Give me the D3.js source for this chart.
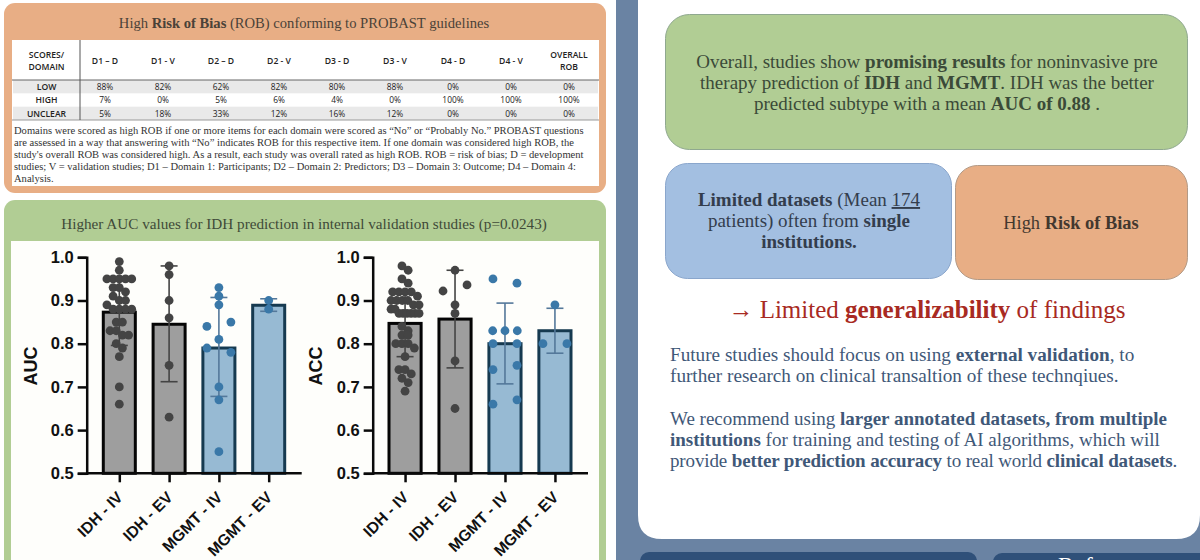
<!DOCTYPE html>
<html lang="en">
<head>
  <meta charset="UTF-8">
  <title>AI prediction of IDH and MGMT - poster section</title>
  <script src="https://d3js.org/d3.v7.min.js"></script>
  <style>
    html, body { margin: 0; padding: 0; background: #fff; overflow: hidden; }
    svg { display: block; }
    .serif { font-family: "Liberation Serif", serif; }
    .tbl { font-family: "Open Sans", sans-serif; fill: #222; }
    .axis text { font-family: "Liberation Sans", Arial, sans-serif; font-weight: bold; fill: #111; }
  </style>
</head>
<body>
<div id="viz"></div>

<script>
// Table data
var domains = ["D1 \u2013 D", "D1 - V", "D2 \u2013 D", "D2 - V", "D3 - D", "D3 - V", "D4 - D", "D4 - V", "OVERALL|ROB"];
var scoreNames = ["LOW", "HIGH", "UNCLEAR"];
var lowScores = ["88%", "82%", "62%", "82%", "80%", "88%", "0%", "0%", "0%"];
var highScores = ["7%", "0%", "5%", "6%", "4%", "0%", "100%", "100%", "100%"];
var unclearScores = ["5%", "18%", "33%", "12%", "16%", "12%", "0%", "0%", "0%"];

var tableNote = [
  "Domains were scored as high ROB if one or more items for each domain were scored as \u201cNo\u201d or \u201cProbably No.\u201d PROBAST questions",
  "are assessed in a way that answering with \u201cNo\u201d indicates ROB for this respective item. If one domain was considered high ROB, the",
  "study's overall ROB was considered high. As a result, each study was overall rated as high ROB. ROB = risk of bias; D = development",
  "studies; V = validation studies; D1 \u2013 Domain 1: Participants; D2 \u2013 Domain 2: Predictors; D3 \u2013 Domain 3: Outcome; D4 \u2013 Domain 4:",
  "Analysis."
];

// Chart data
var groups = ["IDH - IV", "IDH - EV", "MGMT - IV", "MGMT - EV"];
var yTicks = [0.5, 0.6, 0.7, 0.8, 0.9, 1.0];

var aucMean = [0.873, 0.845, 0.79, 0.889];
var aucLow = [0.796, 0.712, 0.678, 0.875];
var aucHigh = [0.95, 0.98, 0.907, 0.904];
var aucIdhIv = [0.99, 0.97, 0.95, 0.95, 0.95, 0.95, 0.95, 0.93, 0.93, 0.92, 0.91, 0.90, 0.90, 0.89, 0.88, 0.88, 0.88, 0.88, 0.85, 0.85, 0.83, 0.83, 0.82, 0.82, 0.80, 0.79, 0.77, 0.70, 0.66];
var aucIdhEv = [0.98, 0.96, 0.90, 0.86, 0.75, 0.63];
var aucMgmtIv = [0.93, 0.91, 0.89, 0.84, 0.85, 0.81, 0.79, 0.78, 0.70, 0.67, 0.55];
var aucMgmtEv = [0.90, 0.88];

var accMean = [0.847, 0.857, 0.80, 0.83];
var accLow = [0.77, 0.744, 0.707, 0.778];
var accHigh = [0.924, 0.97, 0.894, 0.882];
var accIdhIv = [0.98, 0.97, 0.95, 0.94, 0.92, 0.92, 0.92, 0.92, 0.91, 0.90, 0.90, 0.90, 0.90, 0.89, 0.89, 0.88, 0.88, 0.87, 0.87, 0.87, 0.87, 0.87, 0.87, 0.84, 0.83, 0.82, 0.82, 0.80, 0.80, 0.80, 0.79, 0.77, 0.74, 0.74, 0.73, 0.72, 0.71, 0.69];
var accIdhEv = [0.97, 0.922, 0.936, 0.89, 0.87, 0.76, 0.65];
var accMgmtIv = [0.95, 0.94, 0.83, 0.83, 0.83, 0.80, 0.80, 0.74, 0.75, 0.66, 0.67];
var accMgmtEv = [0.89, 0.80, 0.80];

var svg = d3.select("#viz").append("svg").attr("width", 1200).attr("height", 560);

// writes a line of text, **x** is bold and __x__ underlined
function richText(parent, str, x, y, size, color, anchor) {
  var t = parent.append("text").attr("class", "serif")
    .attr("x", x).attr("y", y)
    .attr("font-size", size).attr("fill", color)
    .attr("text-anchor", anchor || "middle");
  str.split(/(\*\*.*?\*\*|__.*?__)/).forEach(function(part) {
    if (!part) return;
    var s = t.append("tspan");
    if (part.slice(0, 2) == "**") {
      s.attr("font-weight", "bold").text(part.slice(2, -2));
    } else if (part.slice(0, 2) == "__") {
      s.style("text-decoration", "underline").text(part.slice(2, -2));
    } else {
      s.text(part);
    }
  });
  return t;
}

function box(x, y, w, h, r, fill, stroke) {
  return svg.append("rect").attr("x", x).attr("y", y).attr("width", w).attr("height", h)
    .attr("rx", r).attr("fill", fill).attr("stroke", stroke || "none");
}

// Left panels
box(4, 3, 602, 190, 11, "#e8ae85");
box(12, 40, 587, 146, 0, "#fff");
richText(svg, "High **Risk of Bias** (ROB) conforming to PROBAST guidelines", 304, 28, 14.6, "#4a4238");

box(4, 200, 602, 380, 11, "#b1cd94");
box(11, 241, 588, 330, 0, "#fefefb");
richText(svg, "Higher AUC values for IDH prediction in internal validation studies (p=0.0243)", 304, 229, 15.2, "#3f4a38");

// Table
var colX = d3.scalePoint().domain(domains).range([105, 569]);
var rowY = d3.scaleBand().domain(scoreNames).range([80, 120]);

svg.selectAll(".shade").data(["LOW", "UNCLEAR"]).enter().append("rect")
  .attr("x", 13).attr("width", 585)
  .attr("y", function(d) { return rowY(d); })
  .attr("height", rowY.bandwidth())
  .attr("fill", "#e9e9e9");

svg.append("line").attr("x1", 12).attr("x2", 599).attr("y1", 80).attr("y2", 80).attr("stroke", "#666");
svg.append("line").attr("x1", 12).attr("x2", 599).attr("y1", 120).attr("y2", 120).attr("stroke", "#999");
svg.append("line").attr("x1", 80).attr("x2", 80).attr("y1", 40).attr("y2", 120).attr("stroke", "#555");

["SCORES/", "DOMAIN"].forEach(function(s, i) {
  svg.append("text").attr("class", "tbl").attr("x", 46.5).attr("y", 58 + i * 12)
    .attr("text-anchor", "middle").attr("font-size", 8.6).attr("font-weight", 600).text(s);
});

domains.forEach(function(d) {
  var parts = d.split("|");
  parts.forEach(function(s, i) {
    svg.append("text").attr("class", "tbl").attr("x", colX(d))
      .attr("y", (parts.length > 1 ? 58 : 64) + i * 12)
      .attr("text-anchor", "middle").attr("font-size", 8.6).attr("font-weight", 600).text(s);
  });
});

[lowScores, highScores, unclearScores].forEach(function(row, r) {
  var name = scoreNames[r];
  svg.append("text").attr("class", "tbl").attr("x", 46.5).attr("y", rowY(name) + 10)
    .attr("text-anchor", "middle").attr("font-size", 8.6).attr("font-weight", 600).text(name);
  row.forEach(function(v, c) {
    svg.append("text").attr("class", "tbl").attr("x", colX(domains[c])).attr("y", rowY(name) + 10)
      .attr("text-anchor", "middle").attr("font-size", 8.4).attr("fill", "#444").text(v);
  });
});

tableNote.forEach(function(line, i) {
  richText(svg, line, 14, 134 + i * 12.1, 10.55, "#333", "start");
});

// spreads dots that sit at nearly the same value side by side, left to right in list order
function swarm(values) {
  var dense = values.length > 20, out = [], i = 0;
  while (i < values.length) {
    var j = i;
    while (j < values.length && Math.abs(values[i] - values[j]) < 0.015) j++;
    var n = j - i, step;
    if (dense) step = Math.min(6.2, 28 / Math.max(n - 1, 1));
    else step = n == 2 ? 24 : 12.3;
    for (var k = 0; k < n; k++) {
      out.push({ value: values[i + k], dx: (k - (n - 1) / 2) * step });
    }
    i = j;
  }
  return out;
}

function barChart(cfg) {
  var g = svg.append("g");
  var x = d3.scaleBand().domain(groups).range(cfg.xRange).paddingInner(0.357);
  var y = d3.scaleLinear().domain([0.5, 1.0]).range([473.3, 257.3]);
  var isIdh = function(i) { return i < 2; };

  g.selectAll(".bar").data(groups).enter().append("rect")
    .attr("x", function(d) { return x(d); })
    .attr("width", x.bandwidth())
    .attr("y", function(d, i) { return y(cfg.mean[i]); })
    .attr("height", function(d, i) { return y(0.5) - y(cfg.mean[i]); })
    .attr("fill", function(d, i) { return isIdh(i) ? "#9e9e9e" : "#97bad3"; })
    .attr("stroke", function(d, i) { return isIdh(i) ? "#050505" : "#163a50"; })
    .attr("stroke-width", 3);

  groups.forEach(function(d, i) {
    var cx = x(d) + x.bandwidth() / 2;
    var col = isIdh(i) ? "#444" : "#54789a";
    g.append("line").attr("x1", cx).attr("x2", cx)
      .attr("y1", y(cfg.low[i])).attr("y2", y(cfg.high[i]))
      .attr("stroke", col).attr("stroke-width", 1.6);
    [cfg.low[i], cfg.high[i]].forEach(function(v) {
      g.append("line").attr("x1", cx - 8.5).attr("x2", cx + 8.5)
        .attr("y1", y(v)).attr("y2", y(v))
        .attr("stroke", col).attr("stroke-width", 1.6);
    });
    g.selectAll(null).data(swarm(cfg.dots[i])).enter().append("circle")
      .attr("cx", function(p) { return cx + p.dx; })
      .attr("cy", function(p) { return y(p.value); })
      .attr("r", 4.4)
      .attr("fill", isIdh(i) ? "#444444" : "#3a78a8");
  });

  var yAxis = g.append("g").attr("class", "axis")
    .attr("transform", "translate(" + cfg.axisX + ",0)")
    .call(d3.axisLeft(y).tickValues(yTicks).tickFormat(d3.format(".1f")).tickSize(9).tickPadding(4));
  var xAxisScale = d3.scalePoint().domain(groups)
    .range([x(groups[0]) + x.bandwidth() / 2, x(groups[3]) + x.bandwidth() / 2]);
  var xAxis = g.append("g").attr("class", "axis")
    .attr("transform", "translate(0,473.3)")
    .call(d3.axisBottom(xAxisScale).tickSize(9).tickSizeOuter(0));

  xAxis.select(".domain").attr("d", "M" + cfg.axisX + ",0H" + cfg.xEnd);
  g.selectAll(".axis .domain, .axis .tick line").attr("stroke", "#0a0a0a").attr("stroke-width", 2.5);
  yAxis.selectAll("text").attr("font-size", 16.5);
  xAxis.selectAll("text")
    .attr("font-size", 15.8)
    .attr("text-anchor", "end")
    .attr("x", 0).attr("y", 0).attr("dy", 0)
    .attr("transform", "translate(4,25) rotate(-45)");

  g.append("text")
    .attr("transform", "translate(" + cfg.titleX + ",366) rotate(-90)")
    .attr("text-anchor", "middle")
    .attr("font-family", "Liberation Sans, Arial, sans-serif")
    .attr("font-weight", "bold").attr("font-size", 18).attr("fill", "#111")
    .text(cfg.title);
}

barChart({
  title: "AUC", titleX: 37, axisX: 86.7, xEnd: 301.7, xRange: [103.3, 284.7],
  mean: aucMean, low: aucLow, high: aucHigh,
  dots: [aucIdhIv, aucIdhEv, aucMgmtIv, aucMgmtEv]
});
barChart({
  title: "ACC", titleX: 322, axisX: 372.7, xEnd: 588, xRange: [389, 571],
  mean: accMean, low: accLow, high: accHigh,
  dots: [accIdhIv, accIdhEv, accMgmtIv, accMgmtEv]
});

// Right column
svg.append("rect").attr("x", 616).attr("y", 0).attr("width", 584).attr("height", 560).attr("fill", "#6a83a3");
svg.append("path").attr("fill", "#fff")
  .attr("d", "M638,0H1200V515Q1200,539 1176,539H662Q638,539 638,515Z");
box(640, 552, 337, 20, 9, "#2f5079");
box(993, 553, 220, 20, 9, "#2f5079");
svg.append("text").attr("class", "serif").attr("x", 1058).attr("y", 573)
  .attr("font-size", 24).attr("fill", "#fff").text("References");

box(665.5, 14.5, 522, 135, 24, "#b1cd94", "#8fa88f");
box(665.5, 163.5, 286, 115, 22, "#a3bfe1", "#8aa6cc");
box(955.5, 165.5, 232, 114, 22, "#e8ae85", "#b39a86");

richText(svg, "Overall, studies show **promising results** for noninvasive pre", 927, 68, 19, "#3b4a38");
richText(svg, "therapy prediction of **IDH** and **MGMT**. IDH was the better", 927, 89, 19, "#3b4a38");
richText(svg, "predicted subtype with a mean **AUC of 0.88** .", 927, 110, 19, "#3b4a38");

richText(svg, "**Limited datasets** (Mean __174__", 809, 206, 19, "#333d4d");
richText(svg, "patients) often from **single**", 809, 227, 19, "#333d4d");
richText(svg, "**institutions.**", 809, 248, 19, "#333d4d");

richText(svg, "High **Risk of Bias**", 1071, 229, 18.4, "#43382f");

richText(svg, "\u2192 Limited **generalizability** of findings", 927, 318, 25, "#a82a22");

richText(svg, "Future studies should focus on using **external validation**, to", 670, 361, 19.2, "#3f5878", "start");
richText(svg, "further research on clinical transaltion of these technqiues.", 670, 382, 19.2, "#3f5878", "start");
richText(svg, "We recommend using **larger annotated datasets, from multiple**", 670, 425, 19, "#3f5878", "start");
richText(svg, "**institutions** for training and testing of AI algorithms, which will", 670, 446, 19, "#3f5878", "start");
richText(svg, "provide **better prediction accuracy** to real world **clinical datasets**.", 670, 467, 19, "#3f5878", "start")
  .attr("letter-spacing", -0.13);
</script>
</body>
</html>
